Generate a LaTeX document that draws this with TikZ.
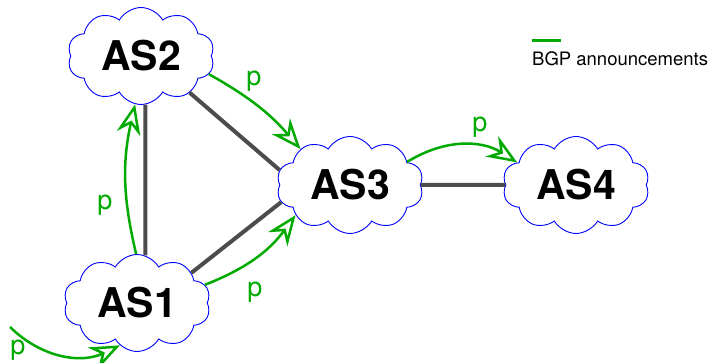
\documentclass[tikz,border=0pt]{standalone}
\usepackage{fontspec}
\setmainfont{TeX Gyre Heros}
\usetikzlibrary{shapes.symbols, arrows.meta}
\definecolor{bgpgreen}{RGB}{0,170,0}
\tikzset{
  asnode/.style={cloud, cloud puffs=10, cloud puff arc=120, aspect=1.5,
    draw=blue, line width=0.9pt, fill=white, minimum width=147pt,
    minimum height=97pt, inner sep=0pt, font=\fontsize{41}{44}\selectfont\bfseries},
  link/.style={draw=black!70, line width=4pt},
  announce/.style={draw=bgpgreen, line width=2.5pt,
    arrows={-Stealth[open, length=30pt, width=24pt, inset=10pt]}},
  plabel/.style={text=bgpgreen, font=\fontsize{27}{30}\selectfont, inner sep=0pt}
}

\begin{document}
\begin{tikzpicture}[x=1pt, y=1pt]
\useasboundingbox (0,0) rectangle (718,363);
% the four autonomous systems
\node [asnode] (AS2) at (141,307) {AS2};
\node [asnode] (AS1) at (137,60)  {AS1};
\node [asnode] (AS3) at (350,178) {AS3};
\node [asnode] (AS4) at (576,178) {AS4};
% peering links
\draw [link] (AS2.-85)  -- (AS1.80);
\draw [link] (AS2.-37)  -- (AS3.168);
\draw [link] (AS1.29)   -- (AS3.194);
\draw [link] (AS3)      -- (AS4);
% announcements
\coordinate (src) at (10,36);
\draw [announce] (src)     to [bend right=35] (AS1.248);
\draw [announce] (AS1.91)  to [bend left=13]  (AS2.263);
\draw [announce] (AS1.15)  to [bend right=16] (AS3.209);
\draw [announce] (AS2.-15) to [bend left=10]  (AS3.144);
\draw [announce] (AS3.22)  to [bend left=32]  (AS4.159);
\node [plabel] (p0) at (18,13)   {p};
\node [plabel] (p1) at (105,158) {p};
\node [plabel] (p2) at (255,71)  {p};
\node [plabel] (p3) at (254,282) {p};
\node [plabel] (p4) at (480,236) {p};
% legend
\coordinate (legA) at (532,322);
\coordinate (legB) at (561,322);
\draw [draw=bgpgreen, line width=3pt] (legA) -- (legB);
\node [font=\fontsize{18.5}{20}\selectfont, anchor=base west, inner sep=0pt] (legtext) at (532,297) {BGP announcements};
\end{tikzpicture}
\end{document}
